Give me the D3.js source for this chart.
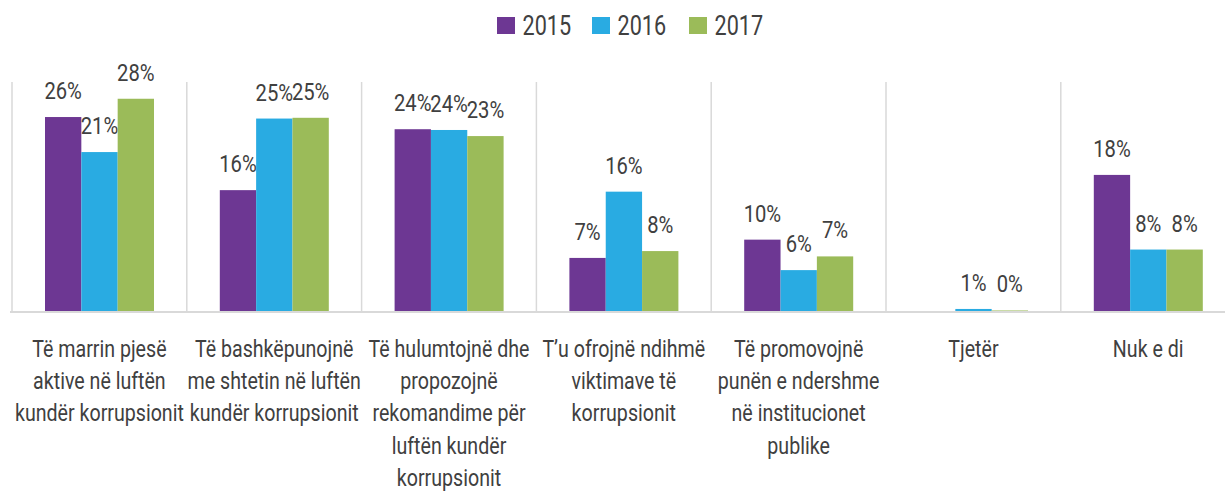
<!DOCTYPE html>
<html lang="sq">
    <head>
        <meta charset="utf-8">
        <title>Roli i shoqërisë civile</title>
        <script type="text/javascript" src="https://d3js.org/d3.v7.min.js"></script>
        <style type="text/css">
            body { margin: 0; background: #fff; }
            text { font-family: Roboto, "Open Sans", sans-serif; fill: #404040; }
        </style>
    </head>
    <body>
        <div id="chart"></div>
        <script type="text/javascript">
            // data
            const categories = [
                "Të marrin pjesë aktive në luftën kundër korrupsionit",
                "Të bashkëpunojnë me shtetin në luftën kundër korrupsionit",
                "Të hulumtojnë dhe propozojnë rekomandime për luftën kundër korrupsionit",
                "T’u ofrojnë ndihmë viktimave të korrupsionit",
                "Të promovojnë punën e ndershme në institucionet publike",
                "Tjetër",
                "Nuk e di"
            ];
            const categoryLines = [
                ["Të marrin pjesë", "aktive në luftën", "kundër korrupsionit"],
                ["Të bashkëpunojnë", "me shtetin në luftën", "kundër korrupsionit"],
                ["Të hulumtojnë dhe", "propozojnë", "rekomandime për", "luftën kundër", "korrupsionit"],
                ["T’u ofrojnë ndihmë", "viktimave të", "korrupsionit"],
                ["Të promovojnë", "punën e ndershme", "në institucionet", "publike"],
                ["Tjetër"],
                ["Nuk e di"]
            ];
            const years = ["2015", "2016", "2017"];
            const values2015 = [25.6, 16.0, 24.0, 7.1, 9.5, null, 18.0];
            const values2016 = [21.0, 25.4, 23.9, 15.8, 5.5, 0.4, 8.2];
            const values2017 = [28.0, 25.5, 23.1, 8.0, 7.3, 0.2, 8.2];
            const labels2015 = ["26%", "16%", "24%", "7%", "10%", "", "18%"];
            const labels2016 = ["21%", "25%", "24%", "16%", "6%", "1%", "8%"];
            const labels2017 = ["28%", "25%", "23%", "8%", "7%", "0%", "8%"];
            const colors = ["#6d3793", "#29abe2", "#9bbb59"];

            const series = [values2015, values2016, values2017];
            const seriesLabels = [labels2015, labels2016, labels2017];

            const W = 1225, H = 492;
            const baseY = 312, topY = 82;

            const svg = d3.select("#chart").append("svg")
                .attr("width", W)
                .attr("height", H);

            // the original face is a condensed one, so squeeze a normal font to the same width
            function squeeze(sample, size, target) {
                const t = svg.append("text").style("font-size", size + "px").text(sample);
                const w = t.node().getComputedTextLength();
                t.remove();
                return target / w;
            }
            const sxLabel = squeeze("kundër korrupsionit", 24.5, 169);
            const sxValue = squeeze("26%", 24.5, 37.5);
            const sxLegend = squeeze("2015", 28, 48.6);

            const x = d3.scaleBand()
                .domain(categories)
                .range([12, 12 + 7 * 174.8])
                .paddingInner(0)
                .paddingOuter(0);

            const xSub = d3.scaleBand()
                .domain(years)
                .range([33, 142]);

            const y = d3.scaleLinear()
                .domain([0, 30.2])
                .range([baseY, topY]);

            // separators
            svg.append("g").selectAll("line")
                .data(categories)
                .join("line")
                .attr("x1", d => x(d))
                .attr("x2", d => x(d))
                .attr("y1", topY)
                .attr("y2", baseY)
                .attr("stroke", "#d9d9d9")
                .attr("stroke-width", 1.5);

            // bars
            const groups = svg.append("g").selectAll("g")
                .data(years)
                .join("g")
                .attr("fill", (d, i) => colors[i]);

            groups.each(function(yr, si) {
                const g = d3.select(this);
                const rows = categories.map((c, ci) => ({c: c, v: series[si][ci], l: seriesLabels[si][ci]}))
                    .filter(r => r.v !== null);
                g.selectAll("rect")
                    .data(rows)
                    .join("rect")
                    .attr("x", r => x(r.c) + xSub(yr))
                    .attr("width", xSub.bandwidth())
                    .attr("y", r => y(r.v))
                    .attr("height", r => baseY - y(r.v));
                g.selectAll("text")
                    .data(rows)
                    .join("text")
                    .attr("transform", r => "translate(" + (x(r.c) + xSub(yr) + xSub.bandwidth() / 2) + "," + (y(r.v) - 18) + ") scale(" + sxValue + ",1)")
                    .attr("text-anchor", "middle")
                    .style("font-size", "24.5px")
                    .text(r => r.l);
            });

            // axis line
            svg.append("line")
                .attr("x1", 10)
                .attr("x2", W)
                .attr("y1", baseY)
                .attr("y2", baseY)
                .attr("stroke", "#d9d9d9")
                .attr("stroke-width", 2);

            // category labels
            const catText = svg.append("g").selectAll("text")
                .data(categories)
                .join("text")
                .attr("text-anchor", "middle")
                .style("font-size", "24.5px")
                .attr("transform", d => "translate(" + (x(d) + x.bandwidth() / 2) + ",356.5) scale(" + sxLabel + ",1)");
            catText.selectAll("tspan")
                .data((d, i) => categoryLines[i])
                .join("tspan")
                .attr("x", 0)
                .attr("dy", (d, i) => i === 0 ? 0 : 32.5)
                .text(d => d);

            // legend
            const legendX = [497, 592, 689];
            const legend = svg.append("g").selectAll("g")
                .data(years)
                .join("g")
                .attr("transform", (d, i) => "translate(" + legendX[i] + ",17)");
            legend.append("rect")
                .attr("width", 18)
                .attr("height", 17)
                .attr("fill", (d, i) => colors[i]);
            legend.append("text")
                .attr("transform", "translate(25.5,17.5) scale(" + sxLegend + ",1)")
                .style("font-size", "28px")
                .text(d => d);
        </script>
    </body>
</html>
